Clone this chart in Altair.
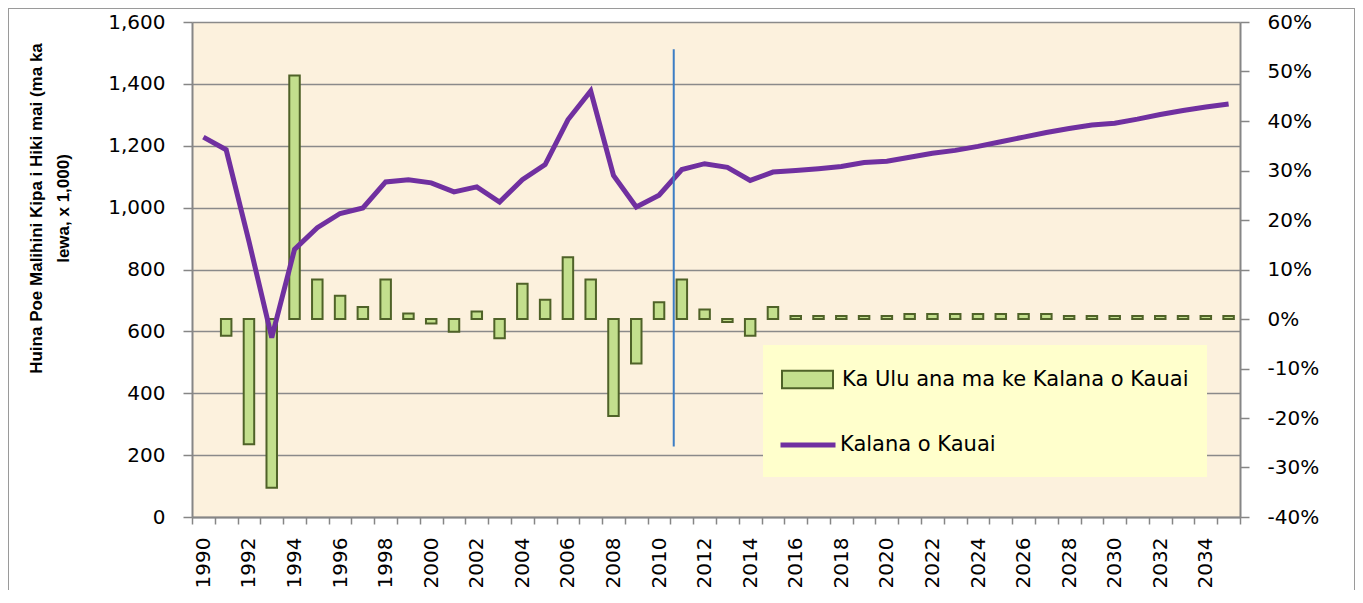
import altair as alt
import pandas as pd

# ---- data ----
years = [str(y) for y in range(1990, 2036)]
visitors = [1228, 1187, 891, 580, 865, 935, 981, 999, 1083, 1090,
            1080, 1051, 1067, 1018, 1090, 1139, 1284, 1377, 1104, 1002,
            1040, 1123, 1142, 1130, 1088, 1115, 1120, 1126, 1133, 1146,
            1150, 1163, 1176, 1185, 1198, 1213, 1228, 1243, 1256, 1267,
            1273, 1286, 1301, 1314, 1325, 1335]
growth_pct = [None, -3.4, -25.3, -34.1, 49.2, 8.0, 4.7, 2.4, 8.0, 1.1,
              -0.9, -2.6, 1.5, -3.9, 7.1, 3.9, 12.5, 8.0, -19.6, -9.0,
              3.4, 8.0, 1.9, -0.6, -3.4, 2.4, 0.6, 0.6, 0.6, 0.6,
              0.6, 1.0, 1.0, 1.0, 1.0, 1.0, 1.0, 1.0, 0.6, 0.6,
              0.6, 0.6, 0.6, 0.6, 0.6, 0.6]
bar_name = "Ka Ulu ana ma ke Kalana o Kauai"
line_name = "Kalana o Kauai"
y_title = ["Huina Poe Malihini Kipa i Hiki mai (ma ka", "lewa, x 1,000)"]
left_ticks = [0, 200, 400, 600, 800, 1000, 1200, 1400, 1600]
right_ticks = [-0.4, -0.3, -0.2, -0.1, 0.0, 0.1, 0.2, 0.3, 0.4, 0.5, 0.6]
marker_year = ["2011"]
marker_top = [1512]
marker_bottom = [228]

df = pd.DataFrame({
    "year": years,
    "visitors": visitors,
    "growth": [g / 100 if g is not None else None for g in growth_pct],
    "bar_series": bar_name,
    "line_series": line_name,
})
marker_df = pd.DataFrame({"year": marker_year, "top": marker_top, "bottom": marker_bottom})

FONT = "DejaVu Sans"
GRAY = "#868686"

x_enc = alt.X(
    "year:O",
    title=None,
    scale=alt.Scale(paddingInner=0, paddingOuter=0),
    axis=alt.Axis(
        labelAngle=270, tickBand="extent", labelOverlap=False,
        labelExpr="parseInt(datum.value) % 2 === 0 ? datum.label : ''",
        labelFont=FONT, labelFontSize=20, labelColor="black",
        labelPadding=13, tickSize=7, tickColor=GRAY, tickWidth=1.5,
        domainColor=GRAY, domainWidth=2, grid=False,
    ),
)

bars = alt.Chart(df).transform_filter("isValid(datum.growth)").mark_bar(
    stroke="#4F6228", strokeWidth=2, width=10.5
).encode(
    x=x_enc,
    y=alt.Y(
        "growth:Q", title=None,
        scale=alt.Scale(domain=[-0.4, 0.6], nice=False, zero=False),
        axis=alt.Axis(
            orient="right", values=right_ticks, format=".0%", grid=False,
            labelExpr="replace(datum.label, '\u2212', '-')",
            labelFont=FONT, labelFontSize=20, labelColor="black",
            labelPadding=18, tickSize=9, tickColor=GRAY, tickWidth=1.5,
            domainColor=GRAY, domainWidth=2,
        ),
    ),
    y2=alt.datum(0),
    fill=alt.Fill(
        "bar_series:N",
        scale=alt.Scale(domain=[bar_name], range=["#C3DF8D"]),
        legend=alt.Legend(
            title=None, orient="none", legendX=589, legendY=331, padding=0,
            symbolType="M-1,-0.34H1V0.34H-1Z", symbolSize=2601,
            symbolStrokeColor="#4F6228", symbolStrokeWidth=2,
            labelFont=FONT, labelFontSize=21, labelColor="black",
            labelOffset=8, labelLimit=600, zindex=2,
        ),
    ),
)

line = alt.Chart(df).mark_line(strokeWidth=5).encode(
    x="year:O",
    y=alt.Y(
        "visitors:Q", title=y_title,
        scale=alt.Scale(domain=[0, 1600], nice=False),
        axis=alt.Axis(
            orient="left", values=left_ticks, format=",.0f", grid=True,
            gridColor="#8A8A8A", gridWidth=1.5,
            labelFont=FONT, labelFontSize=20, labelColor="black",
            labelPadding=18, tickSize=9, tickColor=GRAY, tickWidth=1.5,
            domainColor=GRAY, domainWidth=2,
            titleFont="Liberation Sans", titleFontSize=17, titleFontWeight="bold",
            titleColor="black", titleAngle=270, titleAlign="center",
            titleBaseline="alphabetic", titleX=-151, titleY=186, titleLineHeight=27,
        ),
    ),
    stroke=alt.Stroke(
        "line_series:N",
        scale=alt.Scale(domain=[line_name], range=["#7030A0"]),
        legend=alt.Legend(
            title=None, orient="none", legendX=586, legendY=393, padding=0,
            symbolType="stroke", symbolSize=3025, symbolStrokeWidth=5,
            labelFont=FONT, labelFontSize=21, labelColor="black",
            labelOffset=2, labelLimit=600, zindex=2,
        ),
    ),
)

marker = alt.Chart(marker_df).mark_rule(color="#3C7DC4", strokeWidth=2).encode(
    x=alt.X("year:O", bandPosition=0.145),
    y=alt.Y("top:Q", scale=alt.Scale(domain=[0, 1600], nice=False), axis=None),
    y2="bottom:Q",
)

legend_box = alt.Chart(df).mark_rect(fill="#FFFFCC").encode(
    x=alt.value(571), x2=alt.value(1015), y=alt.value(323), y2=alt.value(455)
)

border = alt.Chart(df).mark_rect(
    fillOpacity=0, stroke="#9A9A9A", strokeWidth=1
).encode(
    x=alt.value(-183.5), x2=alt.value(1162.5), y=alt.value(-13.5), y2=alt.value(640)
)

chart = alt.layer(bars, line, marker, legend_box, border).resolve_scale(
    y="independent"
).properties(
    width=1048, height=495,
    padding={"left": 184, "top": 14, "right": 115, "bottom": 73},
    autosize=alt.AutoSizeParams(type="none"),
).configure(background="white").configure_view(fill="#FCF1DD", stroke=None)

chart.save("out.html", embed_options={"renderer": "svg", "actions": False})
